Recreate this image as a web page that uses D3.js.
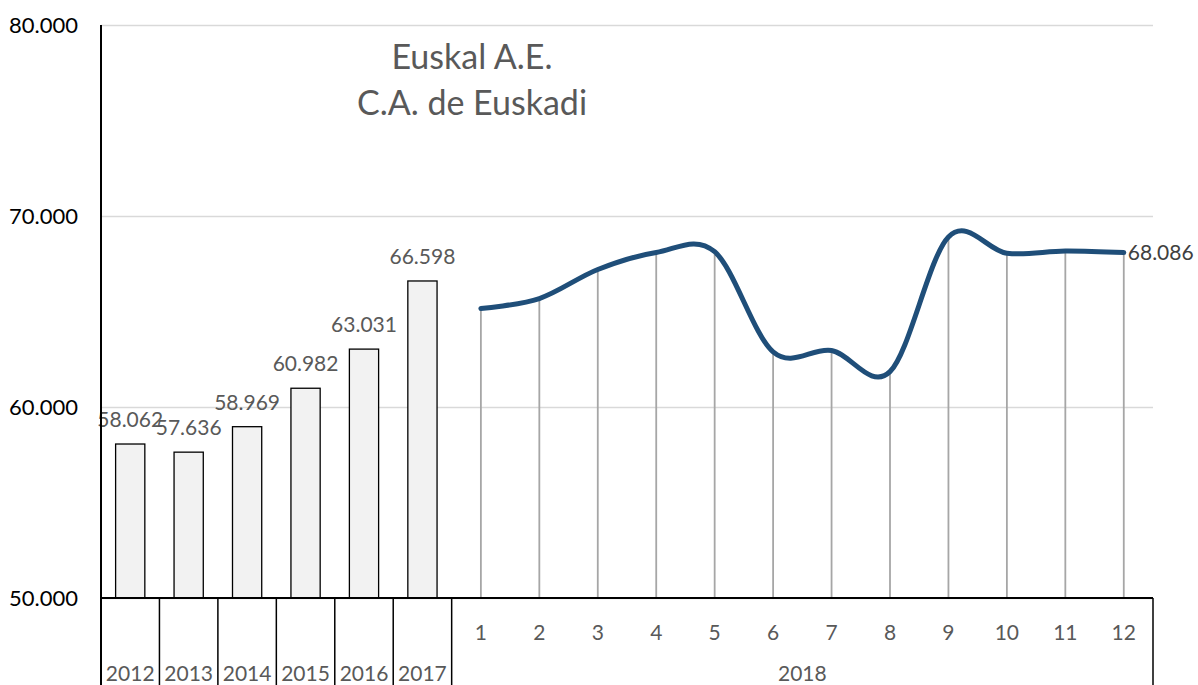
<!DOCTYPE html>
<html>
<head>
<meta charset="utf-8">
<script src="https://cdn.jsdelivr.net/npm/d3@7"></script>
<style>
    body { margin: 0; background: #fff; }
    text { font-family: Lato, "Open Sans", sans-serif; }
</style>
</head>
<body>
<div id="chart-area"></div>
<script>

// yearly averages (bars)
var years = ["2012", "2013", "2014", "2015", "2016", "2017"];
var yearValues = [58062, 57636, 58969, 60982, 63031, 66598];

// 2018 monthly values (line)
var lineYear = "2018";
var months = ["1", "2", "3", "4", "5", "6", "7", "8", "9", "10", "11", "12"];
var monthValues = [65160, 65680, 67200, 68090, 68130, 62890, 62960, 61850, 68900, 68050, 68170, 68086];

var yTicks = [50000, 60000, 70000, 80000];
var titleLines = ["Euskal A.E.", "C.A. de Euskadi"];


ComboChart = function(_parentElement){
    this.parentElement = _parentElement;
    this.initVis();
}

ComboChart.prototype.initVis = function(){
    var vis = this;

    vis.margin = { top: 25, right: 45, bottom: 87, left: 101 };
    vis.width = 1198 - vis.margin.left - vis.margin.right;
    vis.height = 685 - vis.margin.top - vis.margin.bottom;

    vis.svg = d3.select("#" + vis.parentElement).append("svg")
        .attr("width", 1198)
        .attr("height", 685)
        .append("g")
        .attr("transform", "translate(" + vis.margin.left + "," + vis.margin.top + ")");

    // thousands with a dot, like the original
    vis.fmt = d3.formatLocale({ decimal: ",", thousands: ".", grouping: [3], currency: ["", ""] }).format(",.0f");

    vis.x = d3.scaleBand()
        .range([0, vis.width])
        .padding(0);

    vis.y = d3.scaleLinear()
        .domain([50000, 80000])
        .range([vis.height, 0]);

    vis.wrangleData();
};

ComboChart.prototype.wrangleData = function(){
    var vis = this;

    vis.barData = years.map(function(d, i){ return { key: d, label: d, value: yearValues[i] }; });
    vis.lineData = months.map(function(d, i){ return { key: lineYear + "-" + d, label: d, value: monthValues[i] }; });

    vis.x.domain(vis.barData.concat(vis.lineData).map(function(d){ return d.key; }));

    vis.updateVis();
};

ComboChart.prototype.updateVis = function(){
    var vis = this;
    var bw = vis.x.bandwidth();

    // gridlines
    vis.svg.append("g")
        .attr("class", "grid")
        .call(d3.axisLeft(vis.y).tickValues(yTicks).tickSize(-vis.width).tickFormat(""))
        .call(function(g){ g.select(".domain").remove(); })
        .selectAll("line")
        .attr("stroke", "#d9d9d9")
        .attr("stroke-width", 1.5);

    // y labels
    vis.svg.append("g")
        .call(d3.axisLeft(vis.y).tickValues(yTicks).tickSize(0).tickPadding(23).tickFormat(vis.fmt))
        .call(function(g){ g.select(".domain").remove(); })
        .selectAll("text")
        .attr("font-size", 22)
        .attr("fill", "#000");

    // title
    vis.svg.append("text")
        .attr("x", 371)
        .attr("text-anchor", "middle")
        .attr("font-size", 34)
        .attr("fill", "#595959")
        .selectAll("tspan")
        .data(titleLines)
        .enter()
        .append("tspan")
        .attr("x", 371)
        .attr("y", function(d, i){ return 44 + i * 46; })
        .text(function(d){ return d; });

    // bars
    vis.svg.selectAll("rect.bar")
        .data(vis.barData)
        .enter()
        .append("rect")
        .attr("class", "bar")
        .attr("x", function(d){ return vis.x(d.key) + bw * 0.25; })
        .attr("width", bw * 0.5)
        .attr("y", function(d){ return vis.y(d.value); })
        .attr("height", function(d){ return vis.height - vis.y(d.value); })
        .attr("fill", "#f2f2f2")
        .attr("stroke", "#000")
        .attr("stroke-width", 1.3);

    vis.svg.selectAll("text.bar-label")
        .data(vis.barData)
        .enter()
        .append("text")
        .attr("class", "bar-label")
        .attr("x", function(d){ return vis.x(d.key) + bw / 2; })
        .attr("y", function(d){ return vis.y(d.value) - 17; })
        .attr("text-anchor", "middle")
        .attr("font-size", 21)
        .attr("fill", "#595959")
        .text(function(d){ return vis.fmt(d.value); });

    // drop lines
    vis.svg.selectAll("line.drop")
        .data(vis.lineData)
        .enter()
        .append("line")
        .attr("class", "drop")
        .attr("x1", function(d){ return vis.x(d.key) + bw / 2; })
        .attr("x2", function(d){ return vis.x(d.key) + bw / 2; })
        .attr("y1", function(d){ return vis.y(d.value); })
        .attr("y2", vis.height)
        .attr("stroke", "#a6a6a6")
        .attr("stroke-width", 1.8);

    // smoothed monthly line
    var line = d3.line()
        .x(function(d){ return vis.x(d.key) + bw / 2; })
        .y(function(d){ return vis.y(d.value); })
        .curve(d3.curveCatmullRom.alpha(0));

    vis.svg.append("path")
        .datum(vis.lineData)
        .attr("d", line)
        .attr("fill", "none")
        .attr("stroke", "#1f4e79")
        .attr("stroke-width", 5)
        .attr("stroke-linecap", "round");

    var last = vis.lineData[vis.lineData.length - 1];
    vis.svg.append("text")
        .attr("x", vis.x(last.key) + bw / 2 + 4)
        .attr("y", vis.y(last.value))
        .attr("dy", "0.35em")
        .attr("font-size", 21)
        .attr("fill", "#404040")
        .text(vis.fmt(last.value));

    // category axis (two levels)
    var axisBottom = vis.height + vis.margin.bottom;
    var axis = vis.svg.append("g").attr("class", "x-axis");

    axis.append("line")
        .attr("x1", 0).attr("x2", vis.width)
        .attr("y1", vis.height).attr("y2", vis.height)
        .attr("stroke", "#000").attr("stroke-width", 2);

    axis.append("line")
        .attr("x1", 0).attr("x2", 0)
        .attr("y1", 0).attr("y2", axisBottom)
        .attr("stroke", "#000").attr("stroke-width", 2);

    var seps = vis.barData.map(function(d){ return vis.x(d.key); })
        .concat([vis.x(vis.lineData[0].key), vis.width]);

    axis.selectAll("line.sep")
        .data(seps)
        .enter()
        .append("line")
        .attr("class", "sep")
        .attr("x1", function(d){ return d; })
        .attr("x2", function(d){ return d; })
        .attr("y1", vis.height)
        .attr("y2", axisBottom)
        .attr("stroke", "#000")
        .attr("stroke-width", 1.5);

    axis.selectAll("text.month")
        .data(vis.lineData)
        .enter()
        .append("text")
        .attr("class", "month")
        .attr("x", function(d){ return vis.x(d.key) + bw / 2; })
        .attr("y", vis.height + 42)
        .attr("text-anchor", "middle")
        .attr("font-size", 21)
        .attr("fill", "#595959")
        .text(function(d){ return d.label; });

    axis.selectAll("text.year")
        .data(vis.barData)
        .enter()
        .append("text")
        .attr("class", "year")
        .attr("x", function(d){ return vis.x(d.key) + bw / 2; })
        .attr("y", vis.height + 83)
        .attr("text-anchor", "middle")
        .attr("font-size", 21)
        .attr("fill", "#595959")
        .text(function(d){ return d.label; });

    axis.append("text")
        .attr("x", (vis.x(vis.lineData[0].key) + vis.width) / 2)
        .attr("y", vis.height + 83)
        .attr("text-anchor", "middle")
        .attr("font-size", 21)
        .attr("fill", "#595959")
        .text(lineYear);
};

var chart = new ComboChart("chart-area");

</script>
</body>
</html>
